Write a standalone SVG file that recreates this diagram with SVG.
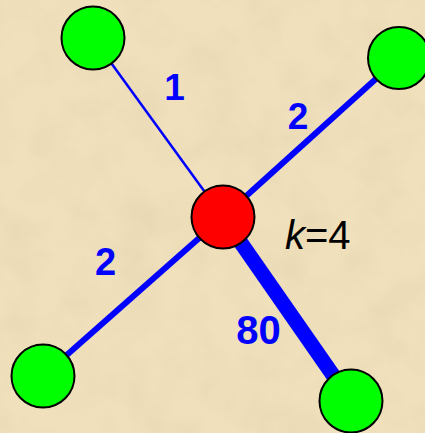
<svg xmlns="http://www.w3.org/2000/svg" width="425" height="433" viewBox="0 0 425 433">
<defs>
<style>
.edge{stroke:#0000FF;stroke-linecap:butt;fill:none}
.leaf{fill:#00FF00;stroke:#000;stroke-width:2}
.hub{fill:#FF0000;stroke:#000;stroke-width:2}
.w{font-family:"Liberation Sans",Arial,sans-serif;font-weight:bold;fill:#0000FF;text-anchor:middle}
.k{font-family:"Liberation Sans",Arial,sans-serif;fill:#000;font-size:40px}
</style>
<filter id="tex" x="0" y="0" width="100%" height="100%">
<feTurbulence type="fractalNoise" baseFrequency="0.025" numOctaves="4" seed="3"/>
<feColorMatrix type="matrix" values="0 0 0 0 0.6  0 0 0 0 0.5  0 0 0 0 0.3  0 0 0 -1.2 0.75"/>
</filter>
</defs>
<rect width="425" height="433" fill="#F0E0BC"/>
<rect width="425" height="433" filter="url(#tex)" opacity="0.3"/>
<g id="connectors">
<line class="edge" x1="93" y1="38" x2="223" y2="217" stroke-width="2.5"/>
<line class="edge" x1="399" y1="58" x2="223" y2="217" stroke-width="6"/>
<line class="edge" x1="43" y1="376" x2="223" y2="217" stroke-width="6"/>
<line class="edge" x1="351" y1="401" x2="223" y2="217" stroke-width="15"/>
</g>
<g id="node-top-left"><circle class="leaf" cx="93" cy="38" r="31.5"/></g>
<g id="node-top-right"><circle class="leaf" cx="399" cy="58" r="31"/></g>
<g id="node-bottom-left"><circle class="leaf" cx="43" cy="376" r="31.5"/></g>
<g id="node-bottom-right"><circle class="leaf" cx="351" cy="401" r="31.5"/></g>
<g id="node-center"><circle class="hub" cx="223" cy="217" r="31.5"/></g>
<g id="labels">
<text class="w" x="174.5" y="100" font-size="37">1</text>
<text class="w" x="298" y="129" font-size="37">2</text>
<text class="w" x="105.5" y="275" font-size="38">2</text>
<text class="w" x="258.5" y="344" font-size="40">80</text>
<text class="k" x="285" y="249"><tspan font-style="italic">k</tspan>=4</text>
</g>
</svg>
